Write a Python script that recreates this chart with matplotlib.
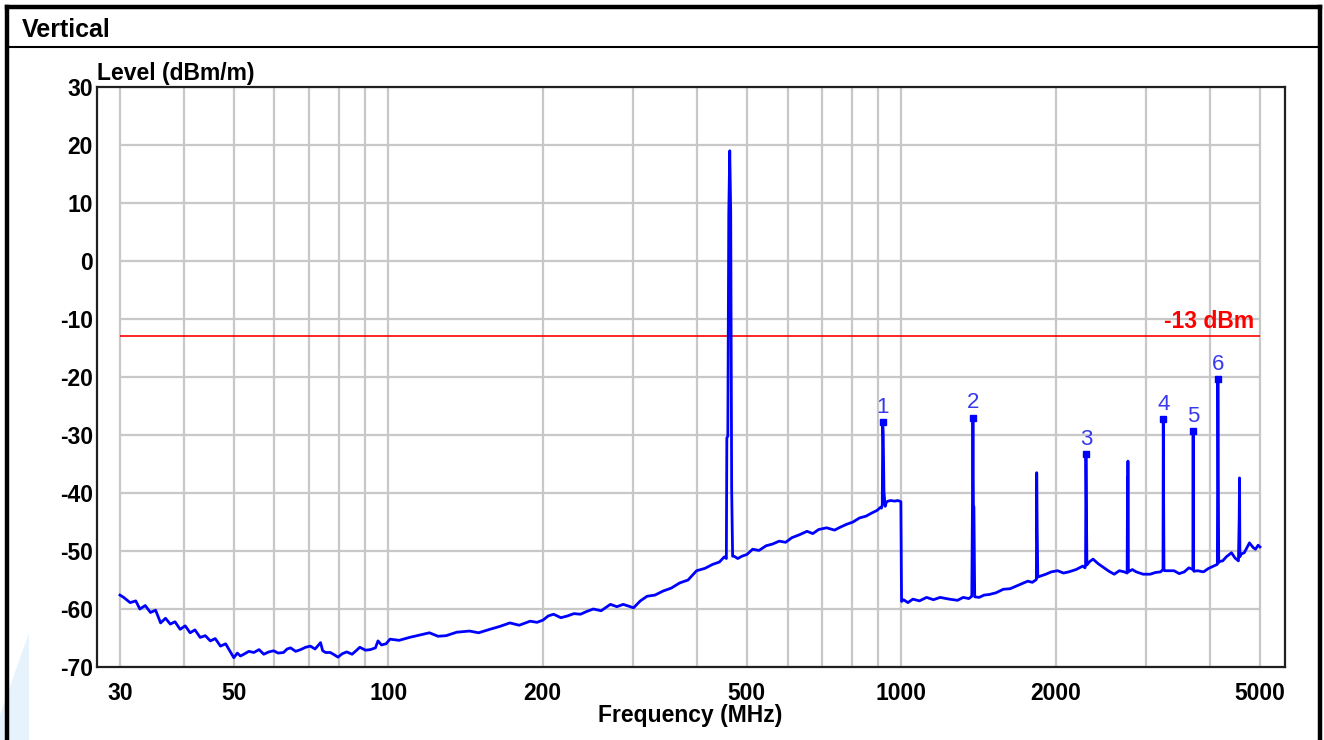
import matplotlib
matplotlib.use('Agg')
from matplotlib import pyplot as plt
from matplotlib.patches import Polygon
from matplotlib.lines import Line2D

plt.rcParams['font.family'] = ['Liberation Sans', 'DejaVu Sans']
plt.rcParams['axes.unicode_minus'] = False

# measured trace (MHz, dBm/m), spikes included as vertices
freq_mhz = [
    30, 30.5, 31.4, 32.2, 32.8, 33.6, 34.4, 35.2, 36, 36.8,
    37.6, 38.4, 39.3, 40.2, 41.1, 42, 43, 44, 45, 46,
    47.1, 48.2, 49.3, 50, 50.8, 51.5, 52.3, 53.5, 54.7, 56,
    57.2, 58.5, 59.8, 61, 62.5, 63.5, 64.5, 66, 67.5, 69,
    70.5, 72, 73.8, 74.5, 75.5, 77.1, 78.5, 79.8, 81.4, 83,
    85, 86.8, 88, 90.3, 92.3, 94.4, 95.5, 97, 99,
    100.8, 105, 110, 115, 120.3, 125, 129.6, 136, 144, 150,
    157.8, 165, 172.6, 180, 189, 195, 200.4, 205, 210, 217,
    223.5, 230, 237, 244, 251, 260, 271, 279, 287, 294,
    300.6, 310, 319.5, 331, 343.4, 356, 370, 384, 399, 414,
    429, 442, 452, 456,
    457, 459, 461, 463, 465, 467, 469,
    472, 480, 489, 500, 513, 528, 545, 561, 578, 595,
    612, 633, 655, 672, 690, 715, 741, 760, 782, 805,
    829, 853, 878, 897, 910, 915,
    918, 920, 922, 925, 930, 935, 942, 955, 970, 985, 998,
    1001, 1010, 1030, 1053, 1085, 1120, 1155, 1190, 1240, 1287, 1320, 1354, 1372,
    1376, 1379, 1382, 1385, 1390,
    1418, 1450, 1484, 1530, 1580, 1630, 1680, 1720, 1764, 1800, 1828,
    1833, 1836, 1840, 1845,
    1870, 1913, 1960, 2017, 2070, 2120, 2190, 2258, 2280,
    2286, 2290, 2295, 2300,
    2330, 2364, 2420, 2485, 2540, 2600, 2660, 2720, 2755,
    2760, 2762, 2765, 2768,
    2820, 2870, 2960, 3055, 3130, 3200, 3236,
    3240, 3245, 3250, 3258,
    3330, 3400, 3480, 3560, 3635, 3700,
    3705, 3710, 3716,
    3780, 3880, 3970, 4060, 4130,
    4140, 4148, 4155, 4162,
    4230, 4300, 4400, 4470, 4540,
    4555, 4562, 4570, 4580,
    4660, 4770, 4850, 4900, 4960, 5000,
]
level_dbm = [
    -57.6, -58.0, -58.9, -58.6, -60.0, -59.4, -60.6, -60.2, -62.4, -61.6,
    -62.6, -62.2, -63.5, -62.9, -64.1, -63.6, -64.9, -64.6, -65.5, -65.1,
    -66.4, -66.0, -67.5, -68.4, -67.6, -68.1, -67.8, -67.3, -67.5, -67.0,
    -67.8, -67.4, -67.2, -67.6, -67.5, -66.9, -66.7, -67.3, -67.0, -66.6,
    -66.4, -66.9, -65.8, -67.2, -67.5, -67.5, -67.9, -68.3, -67.7, -67.4,
    -67.8, -67.1, -66.6, -67.1, -67.0, -66.7, -65.5, -66.2, -66.0,
    -65.2, -65.4, -64.9, -64.5, -64.1, -64.7, -64.6, -64.0, -63.8, -64.1,
    -63.5, -63.0, -62.4, -62.8, -62.1, -62.3, -61.9, -61.2, -60.9, -61.5,
    -61.2, -60.8, -60.9, -60.4, -60.0, -60.3, -59.2, -59.6, -59.2, -59.5,
    -59.8, -58.6, -57.8, -57.6, -56.9, -56.4, -55.5, -55.0, -53.4, -53.0,
    -52.3, -51.9, -51.0, -51.3,
    -30.5, -30.2, 8.3, 19.0, 8.5, -39.3, -50.9,
    -50.9, -51.3, -50.9, -50.6, -49.7, -49.9, -49.1, -48.8, -48.3, -48.5,
    -47.7, -47.2, -46.6, -47.0, -46.3, -46.0, -46.4, -45.9, -45.4, -45.0,
    -44.3, -44.0, -43.4, -43.0, -42.5, -42.6,
    -42.0, -27.8, -30.2, -39.7, -42.3, -41.6, -41.4, -41.3, -41.4, -41.3, -41.5,
    -58.7, -58.4, -58.9, -58.3, -58.6, -58.0, -58.4, -58.0, -58.3, -58.5, -58.0, -58.2, -57.8,
    -42.2, -27.0, -42.2, -42.4, -57.9,
    -58.0, -57.6, -57.5, -57.2, -56.6, -56.5, -56.0, -55.6, -55.2, -55.4, -55.0,
    -54.9, -36.5, -46.3, -54.5,
    -54.3, -54.0, -53.6, -53.4, -53.8, -53.6, -53.2, -52.6, -52.9,
    -52.5, -33.3, -42.8, -52.4,
    -51.8, -51.4, -52.2, -52.9, -53.5, -54.0, -53.4, -53.6, -53.8,
    -37.4, -53.5, -34.5, -53.6,
    -53.2, -53.6, -54.0, -54.0, -53.7, -53.6, -53.2,
    -27.3, -40.8, -53.0, -53.4,
    -53.4, -53.4, -53.9, -53.6, -52.9, -53.2,
    -29.3, -52.8, -53.5,
    -53.4, -53.6, -53.0, -52.6, -52.3,
    -20.3, -36.7, -52.0, -51.8,
    -51.7, -51.0, -50.3, -51.2, -51.7,
    -44.5, -37.4, -51.0, -50.6,
    -50.3, -48.6, -49.4, -49.7, -49.0, -49.3,
]

marker_freq = [920, 1379, 2290, 3240, 3705, 4140]
marker_level = [-27.8, -27.0, -33.3, -27.3, -29.3, -20.3]
marker_text = ['1', '2', '3', '4', '5', '6']

limit_dbm = -13
limit_text = '-13 dBm'

x_ticks = [30, 50, 100, 200, 500, 1000, 2000, 5000]
x_grid = [30, 40, 50, 60, 70, 80, 90, 100, 200, 300, 400, 500,
          600, 700, 800, 900, 1000, 2000, 3000, 4000, 5000]
y_ticks = [-70, -60, -50, -40, -30, -20, -10, 0, 10, 20, 30]

W, H = 1324, 740
fig = plt.figure(figsize=(W / 100, H / 100), dpi=100)
fig.patch.set_facecolor('white')

# axes box in pixels: left 97, right 1285, top 87, bottom 667
ax = fig.add_axes([97 / W, 1 - 667 / H, (1285 - 97) / W, (667 - 87) / H])
ax.set_xscale('log')
ax.set_xlim(27.06, 5595)
ax.set_ylim(-70, 30)

grid_c = '#c8c8c8'
ax.hlines(y_ticks, 30, 5000, color=grid_c, lw=1.6, zorder=1)
ax.vlines(x_grid, -70, 30, color=grid_c, lw=1.6, zorder=1)

ax.hlines(limit_dbm, 30, 5000, color='#ff0000', lw=1.2, zorder=3)
ax.text(4870, limit_dbm + 0.6, limit_text, color='#ff0000', fontsize=16.5,
        fontweight='bold', ha='right', va='bottom', zorder=5)

ax.plot(freq_mhz, level_dbm, color='#0000ff', lw=2.0, zorder=4)

ax.plot(marker_freq, marker_level, 's', color='#0000ff', ms=5, zorder=5)
for f, lv, t in zip(marker_freq, marker_level, marker_text):
    ax.annotate(t, (f, lv), xytext=(0, 3), textcoords='offset points',
                ha='center', va='bottom', color='#3838f0', fontsize=16)

ax.set_xticks(x_ticks)
ax.set_xticklabels([str(v) for v in x_ticks])
ax.xaxis.set_minor_locator(matplotlib.ticker.NullLocator())
ax.set_yticks(y_ticks)
ax.tick_params(length=0)
ax.tick_params(axis='x', pad=11)
ax.tick_params(axis='y', pad=3)
for lab in ax.get_xticklabels() + ax.get_yticklabels():
    lab.set_fontweight('bold')
    lab.set_fontsize(16.5)
for s in ax.spines.values():
    s.set_color('#202020')
    s.set_linewidth(1.6)

fig.text(97 / W, 1 - 80 / H, 'Level (dBm/m)', fontsize=16.5,
         fontweight='bold', ha='left', va='baseline')
fig.text(690 / W, 1 - 722 / H, 'Frequency (MHz)', fontsize=16.5,
         fontweight='bold', ha='center', va='baseline')

# outer frame and header band
def px_line(xs, ys, lw):
    fig.add_artist(Line2D([x / W for x in xs], [1 - y / H for y in ys],
                          color='black', lw=lw, solid_capstyle='projecting'))

fig.add_artist(Polygon([(0, 1 - 740 / H), (29 / W, 1 - 740 / H),
                        (29 / W, 1 - 633 / H), (0, 1 - 715 / H)],
                       closed=True, color='#e6f2fc', lw=0, zorder=0))
px_line([7, 7], [7, 740], 3.2)
px_line([7, 1320], [7, 7], 3.2)
px_line([1320, 1320], [7, 740], 3.2)
px_line([7, 1320], [47, 47], 1.5)
fig.text(22 / W, 1 - 37 / H, 'Vertical', fontsize=18, fontweight='bold',
         ha='left', va='baseline')

fig.savefig('out.png', dpi=100)
